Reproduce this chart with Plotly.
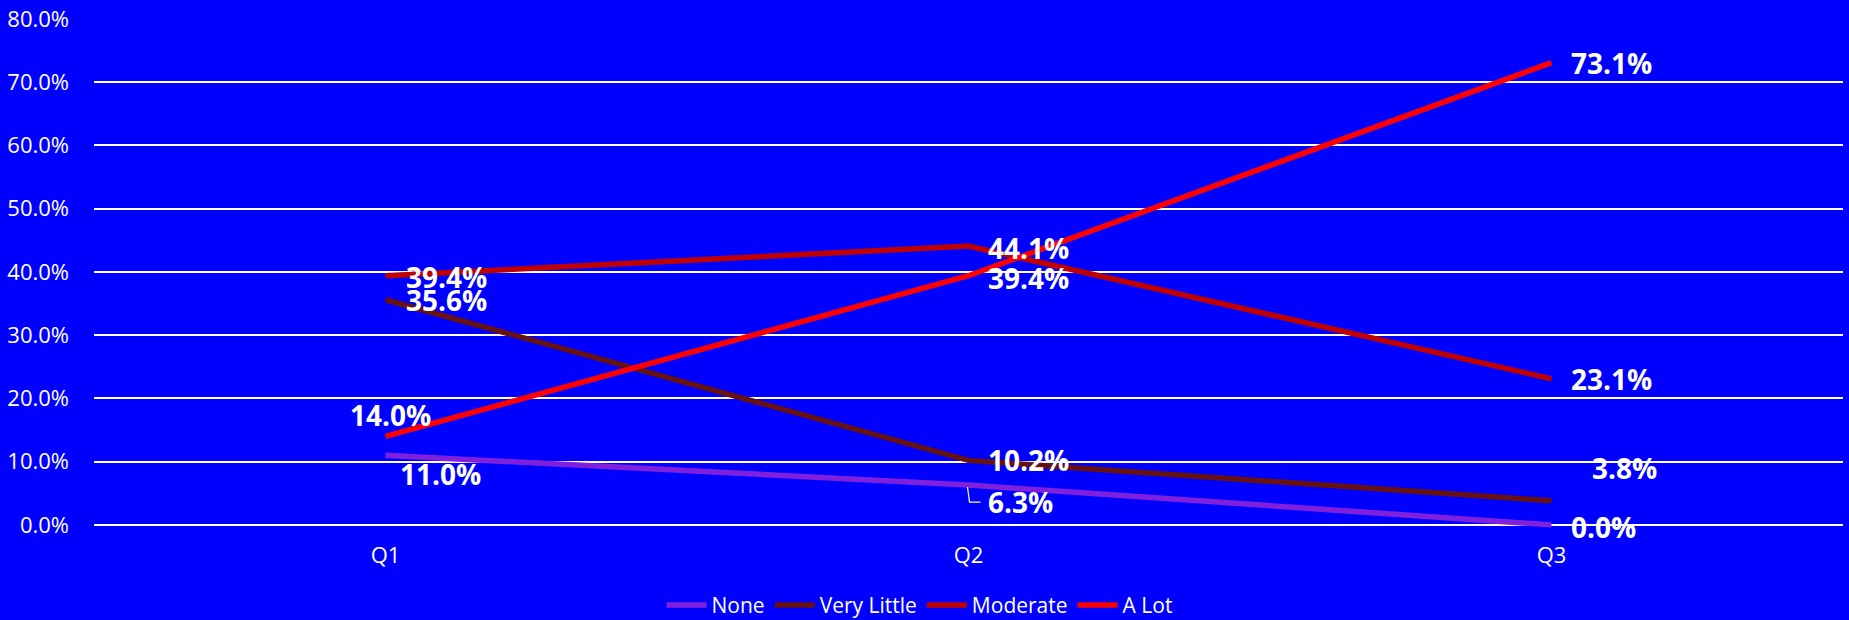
import plotly.graph_objects as go

# Survey responses by quarter (percent of respondents)
quarters = ["Q1", "Q2", "Q3"]
none_vals = [11.0, 6.3, 0.0]
very_little_vals = [35.6, 10.2, 3.8]
moderate_vals = [39.4, 44.1, 23.1]
a_lot_vals = [14.0, 39.4, 73.1]

series = [
    ("None", none_vals, "#8020DC"),
    ("Very Little", very_little_vals, "#661212"),
    ("Moderate", moderate_vals, "#C00000"),
    ("A Lot", a_lot_vals, "#FF0000"),
]

# Label placement per series and quarter: (xanchor, xshift px, yshift px)
label_offsets = {
    "None": [("left", 12, -19), ("left", 17, -17), ("left", 17, -2)],
    "Very Little": [("left", 18, 0), ("left", 17, 0), ("left", 38, 33)],
    "Moderate": [("left", 18, -1), ("left", 17, -2), ("left", 17, 0)],
    "A Lot": [("center", 5, 21), ("left", 17, -2), ("left", 17, 0)],
}

BG = "#0000FF"
FONT = "Open Sans"

fig = go.Figure()
for name, vals, color in series:
    fig.add_trace(go.Scatter(
        x=quarters, y=vals, name=name, mode="lines",
        line=dict(color=color, width=5.5),
        cliponaxis=False,
    ))

annotations = []
for name, vals, _ in series:
    for q, v, (anchor, dx, dy) in zip(quarters, vals, label_offsets[name]):
        annotations.append(dict(
            x=q, y=v, xref="x", yref="y", text=f"{v:.1f}%",
            showarrow=False, xanchor=anchor, yanchor="middle",
            xshift=dx, yshift=dy,
            font=dict(family=FONT, size=28, color="white", weight="bold"),
        ))

# Leader line from the Q2 "None" point to its label
fig.add_shape(
    type="path", xref="x", yref="y",
    xsizemode="pixel", ysizemode="pixel",
    xanchor=quarters[1], yanchor=none_vals[1],
    path="M -1,-2 L 1,-17 L 12,-17",
    line=dict(color="white", width=1.2),
)

fig.update_layout(
    width=1849, height=620,
    margin=dict(l=94, r=6, t=19, b=85.4, autoexpand=False),
    paper_bgcolor=BG, plot_bgcolor=BG,
    font=dict(family=FONT, color="white", size=22),
    annotations=annotations,
    showlegend=True,
    legend=dict(
        orientation="h", x=0.472, xanchor="center", y=-0.1365, yanchor="middle",
        font=dict(family=FONT, size=21, color="white"),
        bgcolor="rgba(0,0,0,0)", itemwidth=40,
    ),
    xaxis=dict(
        range=[-0.5, 2.5], showgrid=False, zeroline=False, showline=False,
        ticks="", tickfont=dict(size=22, color="white"),
        ticklabelstandoff=5,
    ),
    yaxis=dict(
        range=[-1.6, 80], tick0=0, dtick=10, tickformat=".1f", ticksuffix="%",
        showgrid=True, gridcolor="white", gridwidth=1.5,
        zeroline=False, showline=False, ticks="",
        tickfont=dict(size=22, color="white"),
        ticklabelstandoff=24,
    ),
)

fig.write_html("out.html")
